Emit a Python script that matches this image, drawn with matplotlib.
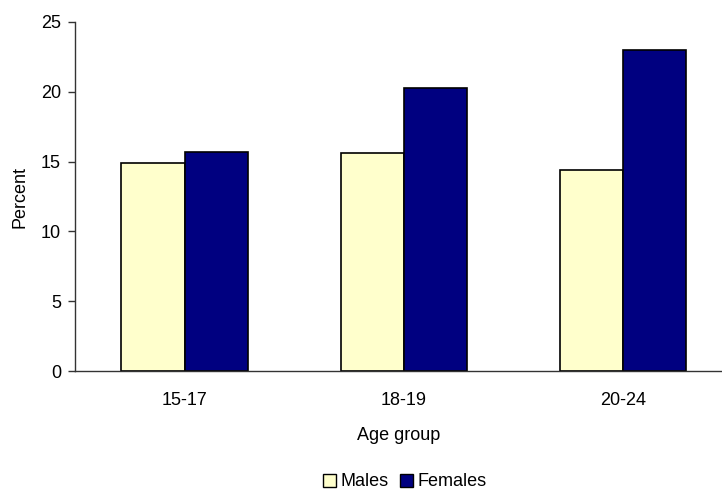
import matplotlib
matplotlib.use("Agg")
import matplotlib.pyplot as plt
import numpy as np
from matplotlib.patches import Patch

plt.rcParams['font.family'] = ['Liberation Sans', 'DejaVu Sans']

age_groups = ["15-17", "18-19", "20-24"]
males = [14.9, 15.6, 14.4]
females = [15.7, 20.3, 23.0]

male_color = "#FFFFCC"
female_color = "#000080"

W, H = 722, 492
fig = plt.figure(figsize=(W / 100, H / 100), dpi=100)
ax = fig.add_axes([75 / W, 121 / H, (722 - 75) / W, 349 / H])

x = np.arange(len(age_groups))
bw = 0.288
ax.bar(x - bw / 2, males, bw, color=male_color, edgecolor="black", linewidth=1.2, label="Males")
ax.bar(x + bw / 2, females, bw, color=female_color, edgecolor="black", linewidth=1.2, label="Females")

ax.set_xlim(-0.5, 2.452)
ax.set_ylim(0, 25)
ax.set_yticks([0, 5, 10, 15, 20, 25])
ax.set_xticks(x)
ax.set_xticklabels(age_groups)

for s in ["top", "right"]:
    ax.spines[s].set_visible(False)
for s in ["left", "bottom"]:
    ax.spines[s].set_color("#333333")
    ax.spines[s].set_linewidth(1.0)

fs = 13
ax.tick_params(axis="y", length=5, width=1, color="#333333", labelsize=fs, pad=5)
ax.tick_params(axis="x", length=0, labelsize=fs, pad=15)

ax.set_ylabel("Percent", fontsize=fs, labelpad=9)
ax.set_xlabel("Age group", fontsize=fs, labelpad=13)

handles = [Patch(facecolor=male_color, edgecolor="black", linewidth=1, label="Males"),
           Patch(facecolor=female_color, edgecolor="black", linewidth=1, label="Females")]
fig.legend(handles=handles, loc="center", bbox_to_anchor=(405 / W, 1 - 482 / H),
           ncol=2, frameon=False, fontsize=fs, handlelength=0.75, handleheight=0.75,
           handletextpad=0.25, columnspacing=0.6)

fig.savefig("out.png", dpi=100)
